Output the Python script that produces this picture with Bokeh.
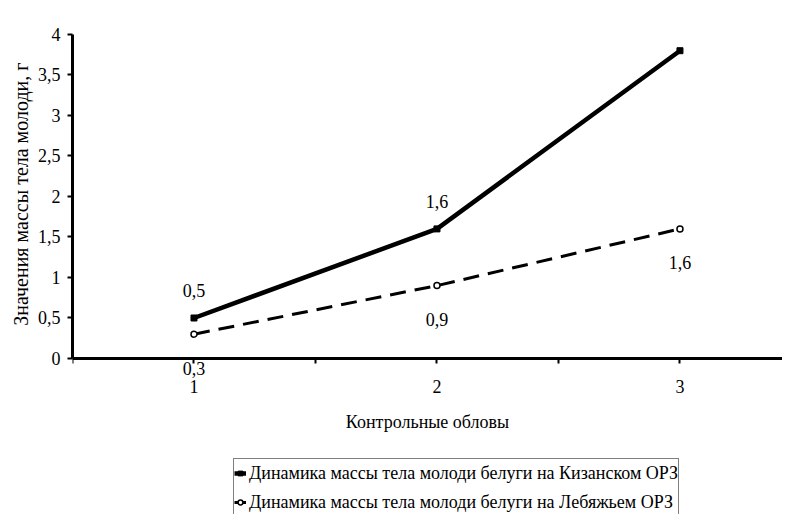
from bokeh.plotting import figure
from bokeh.models import Range1d, FixedTicker, Legend, LegendItem, ColumnDataSource, Title
from bokeh.core.properties import value
from bokeh.embed import file_html
from bokeh.resources import INLINE

# ---- data ----
catches = [1, 2, 3]
kizan = [0.5, 1.6, 3.8]
lebyazh = [0.3, 0.9, 1.6]
kizan_labels = ["0,5", "1,6", "3,8"]
lebyazh_labels = ["0,3", "0,9", "1,6"]
y_ticks = [0, 0.5, 1, 1.5, 2, 2.5, 3, 3.5, 4]
y_tick_labels = ["0", "0,5", "1", "1,5", "2", "2,5", "3", "3,5", "4"]
x_ticks = [0.5, 1, 1.5, 2, 2.5, 3]
x_tick_labels = ["", "1", "", "2", "", "3"]
name_kizan = "Динамика массы тела молоди белуги на Кизанском ОРЗ"
name_lebyazh = "Динамика массы тела молоди белуги на Лебяжьем ОРЗ"
x_title = "Контрольные обловы"
y_title = "Значения массы тела молоди, г"

FONT = "Liberation Serif"
FS = "18px"

p = figure(width=782, height=514, output_backend="svg", toolbar_location=None,
           x_range=Range1d(0.5, 3.422), y_range=Range1d(-1.926, 4),
           min_border_left=72, min_border_top=34, min_border_right=0,
           min_border_bottom=0)
p.outline_line_color = None
p.xgrid.visible = False
p.ygrid.visible = False
p.background_fill_color = "white"
p.border_fill_color = "white"

src1 = ColumnDataSource(dict(x=catches, y=kizan, lab=kizan_labels))
src2 = ColumnDataSource(dict(x=catches, y=lebyazh, lab=lebyazh_labels))

l1 = p.line("x", "y", source=src1, line_color="black", line_width=4.5)
m1 = p.scatter("x", "y", source=src1, marker="square", size=6,
               fill_color="black", line_color="black")
l2 = p.line("x", "y", source=src2, line_color="black", line_width=3,
            line_dash="16 9")
m2 = p.scatter("x", "y", source=src2, marker="circle", size=6,
               fill_color="white", line_color="black", line_width=1.5)

p.text("x", "y", text="lab", source=src1, text_align="center",
       text_baseline="middle", y_offset=-27, text_font=value(FONT),
       text_font_size=FS, text_color="black")
p.text("x", "y", text="lab", source=src2, text_align="center",
       text_baseline="middle", y_offset=34, text_font=value(FONT),
       text_font_size=FS, text_color="black")

# axes
for ax in (p.xaxis[0], p.yaxis[0]):
    ax.axis_line_width = 3
    ax.axis_line_color = "black"
    ax.major_tick_line_width = 2
    ax.major_tick_line_color = "black"
    ax.major_tick_in = 0
    ax.major_tick_out = 5
    ax.minor_tick_line_color = None
    ax.major_label_text_font = FONT
    ax.major_label_text_font_size = FS
    ax.major_label_text_color = "black"
    ax.axis_label_text_font = FONT
    ax.axis_label_text_font_size = FS
    ax.axis_label_text_font_style = "normal"
    ax.axis_label_text_color = "black"

p.xaxis.fixed_location = 0
p.xaxis.ticker = FixedTicker(ticks=x_ticks)
p.xaxis.major_label_overrides = {t: l for t, l in zip(x_ticks, x_tick_labels)}
p.xaxis.major_label_standoff = 17
p.xaxis.axis_label = x_title
p.xaxis.axis_label_standoff = 15

p.yaxis.bounds = (0, 4)
p.yaxis.ticker = FixedTicker(ticks=y_ticks)
p.yaxis.major_label_overrides = {t: l for t, l in zip(y_ticks, y_tick_labels)}
p.yaxis.major_label_standoff = 7

ytitle = Title(text=y_title, align="right", offset=28, standoff=5,
               text_font=FONT, text_font_size="20px", text_font_style="normal",
               text_color="black")
p.add_layout(ytitle, "left")

legend = Legend(items=[LegendItem(label=name_kizan, renderers=[l1, m1]),
                       LegendItem(label=name_lebyazh, renderers=[l2, m2])],
                location=(161, -3), orientation="vertical",
                padding=0, margin=0, spacing=1,
                glyph_width=12, glyph_height=28, label_height=28,
                label_standoff=3,
                label_text_font=FONT, label_text_font_size=FS,
                label_text_color="black",
                border_line_color="black", border_line_width=1,
                background_fill_color="white", background_fill_alpha=1)
p.add_layout(legend, "center")

open("out.html", "w").write(file_html(p, INLINE))
